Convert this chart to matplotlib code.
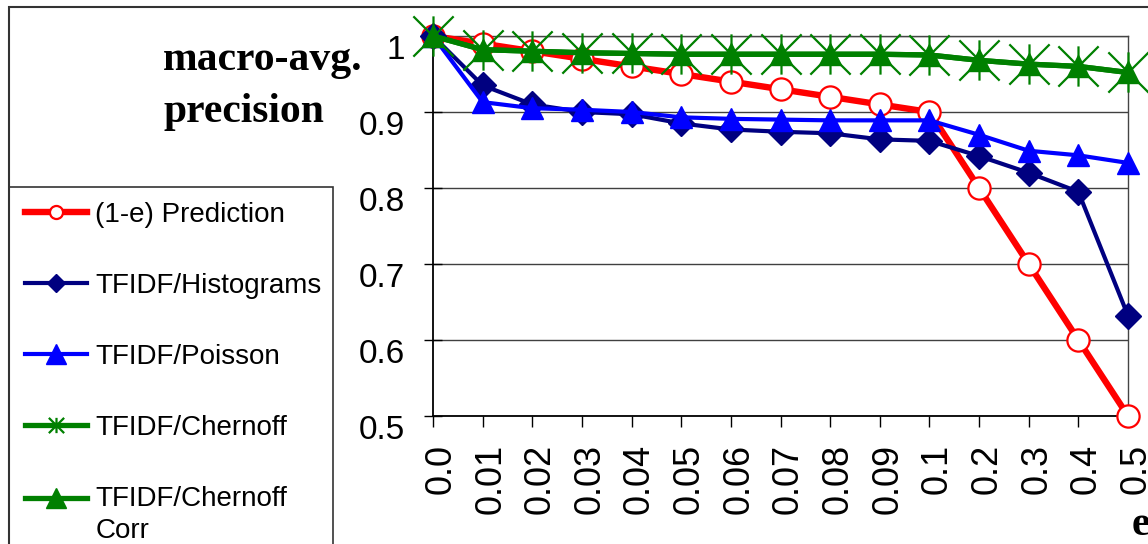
import numpy as np
import matplotlib
matplotlib.use('Agg')
import matplotlib.pyplot as plt
from matplotlib.lines import Line2D
from matplotlib.path import Path
from matplotlib.patches import Rectangle
import matplotlib.transforms as mtransforms

plt.rcParams['font.family'] = ['Liberation Sans', 'DejaVu Sans']

categories = ['0.0', '0.01', '0.02', '0.03', '0.04', '0.05', '0.06', '0.07',
              '0.08', '0.09', '0.1', '0.2', '0.3', '0.4', '0.5']
prediction = [1.0, 0.99, 0.98, 0.97, 0.96, 0.95, 0.94, 0.93, 0.92, 0.91,
              0.90, 0.80, 0.70, 0.60, 0.50]
histograms = [1.0, 0.935, 0.91, 0.90, 0.897, 0.885, 0.877, 0.874, 0.872,
              0.864, 0.862, 0.842, 0.82, 0.795, 0.632]
poisson = [1.0, 0.913, 0.905, 0.903, 0.90, 0.893, 0.891, 0.89, 0.889,
           0.889, 0.889, 0.87, 0.849, 0.843, 0.833]
chernoff = [1.0, 0.982, 0.98, 0.978, 0.977, 0.976, 0.976, 0.976, 0.976,
            0.976, 0.975, 0.968, 0.963, 0.96, 0.952]
chernoff_corr = [1.0, 0.982, 0.98, 0.978, 0.977, 0.976, 0.976, 0.976, 0.976,
                 0.976, 0.975, 0.968, 0.963, 0.96, 0.952]
series_labels = ['(1-e) Prediction', 'TFIDF/Histograms', 'TFIDF/Poisson',
                 'TFIDF/Chernoff', 'TFIDF/Chernoff\nCorr']
yticks = [0.5, 0.6, 0.7, 0.8, 0.9, 1.0]
ytick_labels = ['0.5', '0.6', '0.7', '0.8', '0.9', '1']

W, H = 1148, 544
fig = plt.figure(figsize=(W / 100, H / 100), dpi=100)

# outer chart frame
fig.patches.append(Rectangle((9 / W, -0.2), 1.5, (H - 7) / H + 0.2,
                             transform=fig.transFigure, fill=False,
                             edgecolor='#333333', lw=1.5, zorder=0))
# legend box
fig.patches.append(Rectangle((9 / W, -0.2), (333 - 9) / W, (H - 187) / H + 0.2,
                             transform=fig.transFigure, fill=False,
                             edgecolor='#333333', lw=1.2, zorder=0))

ax = fig.add_axes([433 / W, 128 / H, 695 / W, 380 / H])
x = np.arange(len(categories))

star = Path([(-1, -1), (1, 1), (-1, 1), (1, -1), (0, -1), (0, 1)],
            [Path.MOVETO, Path.LINETO, Path.MOVETO, Path.LINETO,
             Path.MOVETO, Path.LINETO])

styles = [
    dict(color='#FF0000', lw=4.6, marker='o', ms=16, mfc='white', mec='#FF0000', mew=1.6),
    dict(color='#000080', lw=3.0, marker='D', ms=13, mfc='#000080', mec='#000080', mew=1),
    dict(color='#0000FF', lw=3.0, marker='^', ms=16, mfc='#0000FF', mec='#0000FF', mew=1),
    dict(color='#008000', lw=3.8, marker=star, ms=29, mfc='none', mec='#008000', mew=1.6),
    dict(color='#008000', lw=3.8, marker='^', ms=16, mfc='#008000', mec='#008000', mew=1),
]
data = [prediction, histograms, poisson, chernoff, chernoff_corr]
for vals, st in zip(data, styles):
    ax.plot(x, vals, clip_on=False, zorder=3, **st)

ax.set_xlim(0, len(categories) - 1)
ax.set_ylim(0.5, 1.0)
ax.set_yticks(yticks)
ax.set_yticklabels(ytick_labels)
ax.set_xticks(x)
ax.set_xticklabels(categories, rotation=90)
ax.grid(axis='y', color='#404040', lw=1.0, zorder=1)
ax.set_axisbelow(True)
ax.tick_params(axis='y', direction='inout', length=13, width=1, labelsize=24, pad=14)
ax.tick_params(axis='x', direction='out', length=8, width=1, labelsize=26, pad=12)
for s in ['left', 'bottom']:
    ax.spines[s].set_color('black')
    ax.spines[s].set_linewidth(1.3)
for s in ['top', 'right']:
    ax.spines[s].set_color('#444444')
    ax.spines[s].set_linewidth(1.0)

for lbl in ax.get_yticklabels():
    lbl.set_transform(lbl.get_transform() +
                      mtransforms.ScaledTranslation(0, -0.11, fig.dpi_scale_trans))
for lbl in ax.get_xticklabels():
    lbl.set_transform(lbl.get_transform() +
                      mtransforms.ScaledTranslation(0.08, 0, fig.dpi_scale_trans))

# axis titles
serif = dict(family='Liberation Serif', weight='bold', size=30)
fig.text(163 / W, 1 - 70 / H, 'macro-avg.', ha='left', va='baseline', **serif)
fig.text(163 / W, 1 - 122 / H, 'precision', ha='left', va='baseline', **serif)
fig.text(1132 / W, 1 - 535 / H, 'e', ha='left', va='baseline', **serif)

# legend
leg_sizes = [9.4, 9.2, 15, 11, 15]
handles = []
for st, ms in zip(styles, leg_sizes):
    h = dict(st)
    h['ms'] = ms
    handles.append(Line2D([], [], **h))
leg = fig.legend(handles, series_labels, loc='upper left',
                 bbox_to_anchor=(25 / W, 1 - 202 / H), bbox_transform=fig.transFigure,
                 frameon=False, prop={'family': 'Liberation Sans', 'size': 20},
                 handlelength=2.23, handletextpad=0.3, labelspacing=1.62,
                 borderpad=0, borderaxespad=0)
for t in leg.get_texts():
    t.set_linespacing(1.3)

# align the last legend handle with the first line of its two-line label
try:
    col = leg._legend_handle_box.get_children()[0]
    row = col.get_children()[-1]
    da = row.get_children()[0]
    for a in da.get_children():
        a.set_transform(a.get_transform() +
                        mtransforms.ScaledTranslation(0, 0.17, fig.dpi_scale_trans))
except Exception:
    pass

fig.savefig('out.png', dpi=100)
